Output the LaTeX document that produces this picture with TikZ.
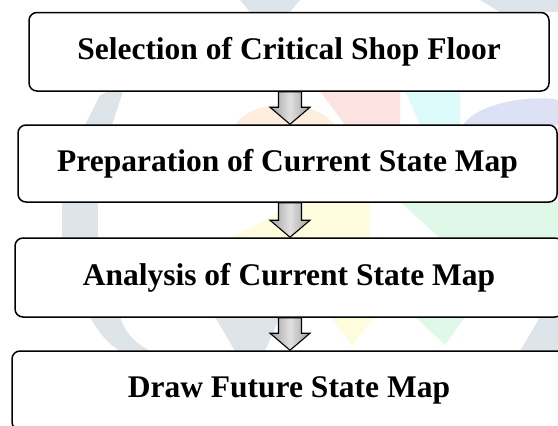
\documentclass[tikz,border=0pt]{standalone}
\usepackage{fontspec}
\setmainfont{Liberation Serif}
\usetikzlibrary{calc}
\definecolor{wmgray}{HTML}{DDE4EA}
\definecolor{wmpink}{HTML}{FDE2E2}
\definecolor{wmorange}{HTML}{FDEEDD}
\definecolor{wmcyan}{HTML}{DDFBFB}
\definecolor{wmblue}{HTML}{DCE1F5}
\definecolor{wmyellow}{HTML}{FEFCDD}
\definecolor{wmgreen}{HTML}{DFF8E8}
\tikzset{
  stepbox/.style={draw=black, line width=1.5pt, rounded corners=8pt, fill=white,
    inner sep=0pt, font=\fontsize{31.5}{36}\selectfont\bfseries},
  blockarr/.style={draw=black, line width=1.1pt, line join=miter,
    left color=gray!75, right color=gray!75, middle color=gray!25},
  wm/.style={draw=none}
}
\newcommand\blockarrow[2]{%
  \path[blockarr] ($(#1)+(-11.5,0)$) -- ($(#2)+(-11.5,-17)$) -- ($(#2)+(-20,-17)$)
    -- (#2) -- ($(#2)+(20,-17)$) -- ($(#2)+(11.5,-17)$) -- ($(#1)+(11.5,0)$) -- cycle;}
\begin{document}
\begin{tikzpicture}[x=1pt,y=-1pt]
\useasboundingbox (0,0) rectangle (558,426);
% faint watermark behind the boxes
\fill[wmgray] (85,125) -- (100,95) -- (125,85) -- (112,125) -- cycle;
\fill[wmgray] (240,0) -- (300,0) -- (290,12) -- (250,12) -- cycle;
\fill[wmgray] (480,0) -- (558,0) -- (558,12) -- (500,12) -- cycle;
\fill[wmorange] (235,125) .. controls (250,100) and (310,95) .. (335,125) -- cycle;
\fill[wmpink] (320,91) -- (400,91) -- (400,125) -- (345,125) -- cycle;
\fill[wmcyan] (405,91) -- (460,91) -- (460,125) -- (420,125) -- cycle;
\fill[wmblue] (463,125) .. controls (480,100) and (540,95) .. (558,100) -- (558,125) -- cycle;
\fill[wmgray] (62,202) -- (98,202) -- (98,238) -- (62,238) -- cycle;
\fill[wmyellow] (230,238) -- (300,202) -- (370,202) -- (370,238) -- cycle;
\fill[wmgreen] (400,202) -- (558,202) -- (558,238) -- (440,238) -- cycle;
\fill[wmgray] (90,317) .. controls (100,335) and (110,345) .. (120,351) -- (150,351) .. controls (130,340) and (125,330) .. (120,317) -- cycle;
\fill[wmgray] (215,317) -- (280,317) -- (265,351) -- (235,351) -- cycle;
\fill[wmyellow] (330,317) -- (375,317) -- (352,345) -- cycle;
\fill[wmgreen] (415,317) -- (465,317) -- (445,345) -- cycle;
\fill[wmgray] (520,351) -- (540,317) -- (558,317) -- (558,351) -- cycle;
% boxes
\coordinate (axis) at (290,0);
\node[stepbox, minimum width=520pt, minimum height=78.5pt] (b1) at (289,51.75) {Selection of Critical Shop Floor};
\node[stepbox, minimum width=539pt, minimum height=77pt] (b2) at (287.5,163.5) {Preparation of Current State Map};
\node[stepbox, minimum width=548pt, minimum height=79pt] (b3) at (289,277.5) {Analysis of Current State Map};
\node[stepbox, minimum width=554pt, minimum height=79pt] (b4) at (289,390.5) {Draw Future State Map};
\coordinate (a1s) at (b1.south -| axis);
\coordinate (a1e) at (b2.north -| axis);
\coordinate (a2s) at (b2.south -| axis);
\coordinate (a2e) at (b3.north -| axis);
\coordinate (a3s) at (b3.south -| axis);
\coordinate (a3e) at (b4.north -| axis);
\blockarrow{a1s}{a1e}
\blockarrow{a2s}{a2e}
\blockarrow{a3s}{a3e}
\end{tikzpicture}
\end{document}
